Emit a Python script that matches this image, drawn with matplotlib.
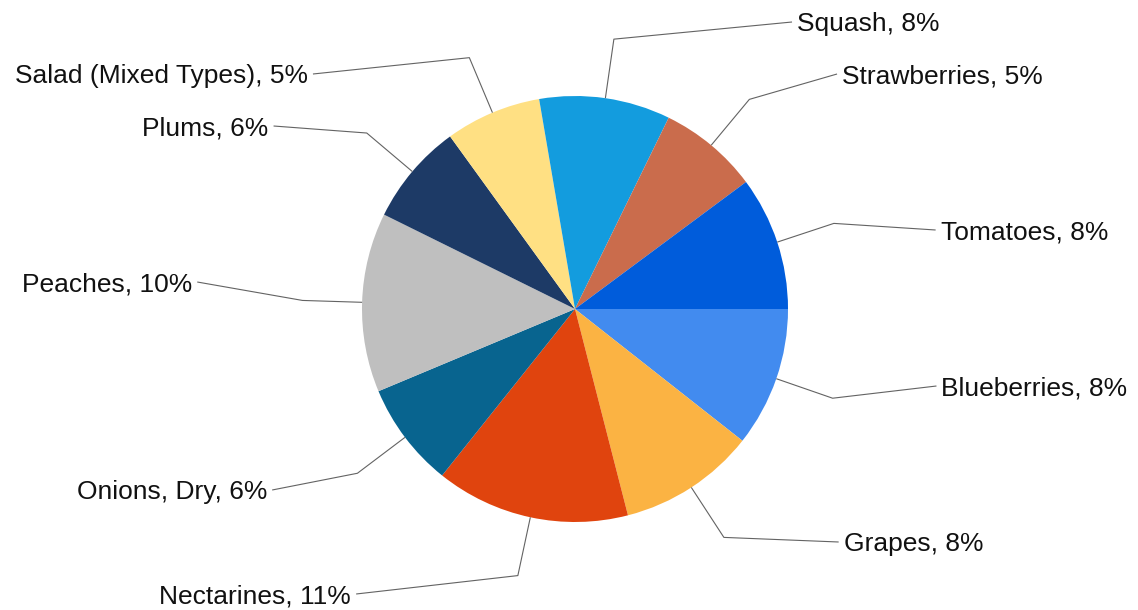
import matplotlib
matplotlib.use("Agg")
import matplotlib.pyplot as plt
import numpy as np

# Crops, in the order the slices run clockwise from 3 o'clock
crops = ["Blueberries", "Grapes", "Nectarines", "Onions, Dry", "Peaches",
         "Plums", "Salad (Mixed Types)", "Squash", "Strawberries", "Tomatoes"]
# slice sizes
weights = [38.2, 37.4, 53.0, 28.7, 49.0, 27.8, 26.2, 35.8, 27.3, 36.6]
# percentages printed in the labels
pct_labels = [8, 8, 11, 6, 10, 6, 5, 8, 5, 8]
colors = ["#428BEF", "#FBB343", "#E0440E", "#08648F", "#BFBFBF",
          "#1D3A66", "#FFE083", "#139CDE", "#CA6C4C", "#005CDB"]

plt.rcParams["font.family"] = ["Liberation Sans", "DejaVu Sans"]

# layout, in pixels (y measured upwards)
W, H = 1138, 610
CX, CY, R = 575, 301, 213
ELBOW = 1.28            # elbow of the leader line, in radii
SLOT0, SLOT = 22, 52.0  # label rows, from the top of the image
FONT = 19
BASE_DROP = 9.5         # baseline sits this far below the row centre


def label_offset(dy):
    """Horizontal distance of a label anchor from the pie centre."""
    return 381.5 - 0.01921 * abs(dy) ** 1.6


fig = plt.figure(figsize=(W / 100, H / 100), dpi=100)
ax = fig.add_axes([0, 0, 1, 1])
wedges, _ = ax.pie(weights, colors=colors, startangle=0, counterclock=False,
                   center=(CX, CY), radius=R,
                   wedgeprops=dict(linewidth=0))
ax.set_xlim(0, W)
ax.set_ylim(0, H)
ax.set_aspect("equal")
ax.axis("off")

for w, name, pct in zip(wedges, crops, pct_labels):
    mid = np.deg2rad((w.theta1 + w.theta2) / 2)
    c, s = np.cos(mid), np.sin(mid)
    edge = (CX + R * c, CY + R * s)
    elbow = (CX + ELBOW * R * c, CY + ELBOW * R * s)
    # snap label to the nearest row
    k = round((H - elbow[1] - SLOT0) / SLOT)
    ly = H - (SLOT0 + SLOT * k)
    side = 1 if c >= 0 else -1
    lx = CX + side * label_offset(ly - CY)
    ax.plot([edge[0], elbow[0], lx], [edge[1], elbow[1], ly],
            color="#636363", lw=0.8, solid_capstyle="butt")
    ax.text(lx + side * 5, ly - BASE_DROP, f"{name}, {pct}%", fontsize=FONT,
            color="#111111", va="baseline",
            ha="left" if side > 0 else "right")

fig.savefig("out.png", dpi=100)
